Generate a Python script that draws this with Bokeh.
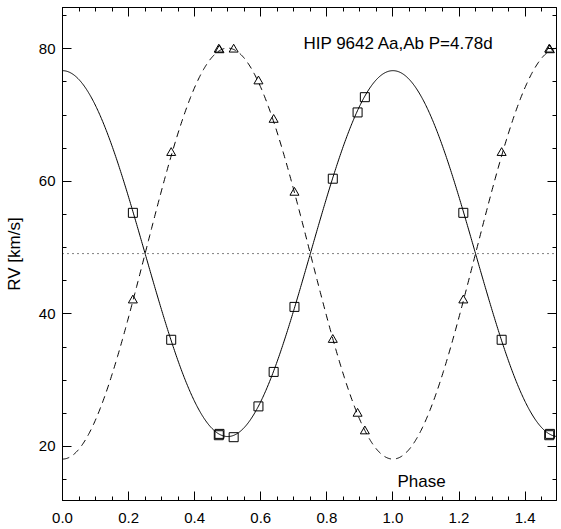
import numpy as np
from bokeh.plotting import figure
from bokeh.models import (LinearAxis, FixedTicker, PrintfTickFormatter, Label,
                          Span, ColumnDataSource, Range1d, CustomLabelingPolicy)
from bokeh.embed import file_html
from bokeh.resources import INLINE

# ---- data ----
obs_phase = [0.213, 0.329, 0.473, 0.475, 0.518, 0.593, 0.639, 0.702, 0.818, 0.893, 0.915]
obs_rv1 = [55.25, 36.1, 21.7, 21.9, 21.4, 26.05, 31.25, 41.06, 60.4, 70.4, 72.7]
obs_rv2 = [42.05, 64.3, 79.9, 79.8, 79.9, 75.1, 69.3, 58.3, 36.1, 24.96, 22.3]

# orbit fit parameters (circular orbit)
V0 = 49.1      # systemic velocity (dotted line)
K1 = 27.6      # primary semi-amplitude (solid)
K2 = 31.0      # secondary semi-amplitude (dashed)

x_ticks = [0.0, 0.2, 0.4, 0.6, 0.8, 1.0, 1.2, 1.4]
y_ticks = [20, 40, 60, 80]
title_text = "HIP 9642 Aa,Ab P=4.78d"
xlabel_text = "Phase"
ylabel_text = "RV [km/s]"

X_MAX = 1.495

# phase-folded observations repeated for the second half-cycle
ph = np.array(obs_phase)
ph_all = np.concatenate([ph, ph + 1.0])
rv1_all = np.concatenate([obs_rv1, obs_rv1])
rv2_all = np.concatenate([obs_rv2, obs_rv2])
keep = ph_all <= X_MAX
obs_src = ColumnDataSource(dict(ph=ph_all[keep], rv1=rv1_all[keep], rv2=rv2_all[keep]))

# orbit curves
cph = np.linspace(0.0, X_MAX, 800)
curve_src = ColumnDataSource(dict(
    ph=cph,
    v1=V0 + K1 * np.cos(2 * np.pi * cph),
    v2=V0 - K2 * np.cos(2 * np.pi * cph),
))

FONT = "Liberation Sans"

p = figure(frame_width=494, frame_height=493,
           x_range=Range1d(0.0, X_MAX), y_range=Range1d(11.85, 86.23),
           output_backend="svg", toolbar_location=None,
           min_border_left=62, min_border_right=3, min_border_top=7,
           min_border_bottom=20)
p.xgrid.visible = False
p.ygrid.visible = False
p.outline_line_color = "black"
p.outline_line_width = 1
p.background_fill_color = "white"
p.border_fill_color = "white"

xt = FixedTicker(ticks=x_ticks, minor_ticks=list(np.round(np.arange(0, 1.5001, 0.05), 2)))
yt = FixedTicker(ticks=y_ticks, minor_ticks=list(range(10, 90, 5)))


def style_axis(ax, ticker, fmt, show_labels):
    ax.ticker = ticker
    ax.formatter = PrintfTickFormatter(format=fmt)
    ax.axis_line_color = "black"
    ax.axis_line_width = 1
    ax.major_tick_in = 9
    ax.major_tick_out = 0
    ax.minor_tick_in = 4
    ax.minor_tick_out = 0
    ax.major_tick_line_color = "black"
    ax.minor_tick_line_color = "black"
    ax.major_label_text_font = FONT
    ax.major_label_text_color = "black"
    ax.axis_label_text_font = FONT
    ax.axis_label_text_font_style = "normal"
    ax.axis_label_text_color = "black"
    if show_labels:
        ax.major_label_text_font_size = "15px"
    else:
        ax.major_label_text_font_size = "0px"
        ax.major_label_policy = CustomLabelingPolicy(code="return []")
        ax.major_label_standoff = 0


style_axis(p.xaxis[0], xt, "%.1f", True)
p.xaxis[0].major_label_standoff = 12
style_axis(p.yaxis[0], yt, "%d", True)
p.yaxis[0].major_label_standoff = 7
p.yaxis[0].axis_label = ylabel_text
p.yaxis[0].axis_label_text_font_size = "17px"
p.yaxis[0].axis_label_standoff = 12

top_ax = LinearAxis()
style_axis(top_ax, xt, "%.1f", False)
p.add_layout(top_ax, "above")
right_ax = LinearAxis()
style_axis(right_ax, yt, "%d", False)
p.add_layout(right_ax, "right")

# systemic velocity
p.add_layout(Span(location=V0, dimension="width", line_color="black",
                  line_width=1, line_dash="1 4"))

# curves
p.line("ph", "v1", source=curve_src, line_color="black", line_width=1)
p.line("ph", "v2", source=curve_src, line_color="black", line_width=1, line_dash="7 5")

# observations
p.scatter("ph", "rv1", source=obs_src, marker="square", size=9,
          fill_color=None, line_color="black", line_width=1)
p.scatter("ph", "rv2", source=obs_src, marker="triangle", size=9,
          fill_color=None, line_color="black", line_width=1)

p.add_layout(Label(x=0.729, y=80.8, text=title_text, text_font=FONT,
                   text_font_size="17px", text_baseline="middle", text_align="left",
                   text_color="black"))
p.add_layout(Label(x=1.0136, y=14.77, text=xlabel_text, text_font=FONT,
                   text_font_size="17px", text_baseline="middle", text_align="left",
                   text_color="black"))

open("out.html", "w").write(file_html(p, INLINE))
